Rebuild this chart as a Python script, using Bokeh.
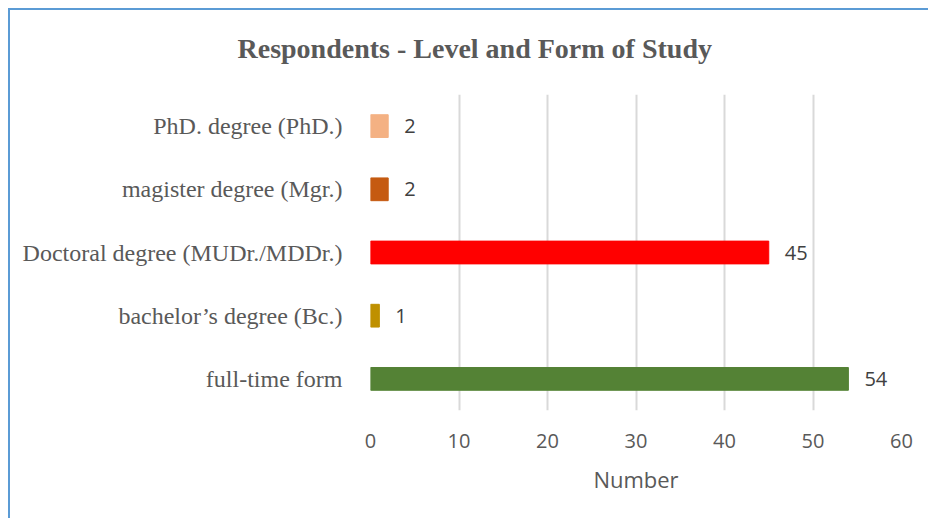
from bokeh.plotting import figure
from bokeh.models import ColumnDataSource, FactorRange, Range1d, FixedTicker, Title
from bokeh.core.properties import value
from bokeh.embed import file_html
from bokeh.resources import INLINE

title_text = "Respondents - Level and Form of Study"
categories = ["full-time form", "bachelor\u2019s degree (Bc.)", "Doctoral degree (MUDr./MDDr.)",
              "magister degree (Mgr.)", "PhD. degree (PhD.)"]
counts = [54, 1, 45, 2, 2]
colors = ["#548235", "#BF9000", "#FF0000", "#C55A11", "#F4B183"]
x_ticks = [0, 10, 20, 30, 40, 50, 60]

source = ColumnDataSource(dict(cat=categories, val=counts, color=colors,
                               lbl=[str(v) for v in counts]))

p = figure(width=920, height=510, output_backend="svg", toolbar_location=None,
           y_range=FactorRange(factors=categories, range_padding=0),
           x_range=Range1d(0, 60),
           min_border_left=360, min_border_right=29, min_border_top=84, min_border_bottom=110)
p.styles = {"border-top": "2px solid #5B9BD5", "border-left": "2px solid #5B9BD5",
            "margin-top": "8px", "margin-left": "8px"}
p.outline_line_color = None
p.background_fill_color = "white"
p.border_fill_color = "white"

p.hbar(y="cat", right="val", left=0, height=0.36, color="color", source=source)
p.text(x="val", y="cat", text="lbl", source=source, x_offset=16,
       text_align="left", text_baseline="middle",
       text_font=value("Open Sans"), text_font_size="20px", text_color="#404040")

# spacer between title and plot area
p.add_layout(Title(text=" ", text_font_size="1px", standoff=6), "above")

p.title.text = title_text
p.title.text_font = "Liberation Serif"
p.title.text_font_size = "28px"
p.title.text_font_style = "bold"
p.title.text_color = "#595959"
p.title.align = "left"
p.title.offset = -133
p.title.vertical_align = "top"
p.title.standoff = 40

p.xaxis.ticker = FixedTicker(ticks=x_ticks)
p.xaxis.axis_line_color = None
p.xaxis.major_tick_line_color = None
p.xaxis.minor_tick_line_color = None
p.xaxis.major_label_text_font = "Open Sans"
p.xaxis.major_label_text_font_size = "20px"
p.xaxis.major_label_text_color = "#595959"
p.xaxis.major_label_standoff = 17
p.xaxis.axis_label = "Number"
p.xaxis.axis_label_text_font = "Open Sans"
p.xaxis.axis_label_text_font_size = "22px"
p.xaxis.axis_label_text_font_style = "normal"
p.xaxis.axis_label_text_color = "#595959"
p.xaxis.axis_label_standoff = 13

p.yaxis.axis_line_color = None
p.yaxis.major_tick_line_color = None
p.yaxis.minor_tick_line_color = None
p.yaxis.major_label_text_font = "Liberation Serif"
p.yaxis.major_label_text_font_size = "24px"
p.yaxis.major_label_text_color = "#595959"
p.yaxis.major_label_standoff = 22

p.xgrid.grid_line_color = "#D9D9D9"
p.xgrid.grid_line_width = 2
p.ygrid.grid_line_color = None

open("out.html", "w").write(file_html(p, INLINE))
